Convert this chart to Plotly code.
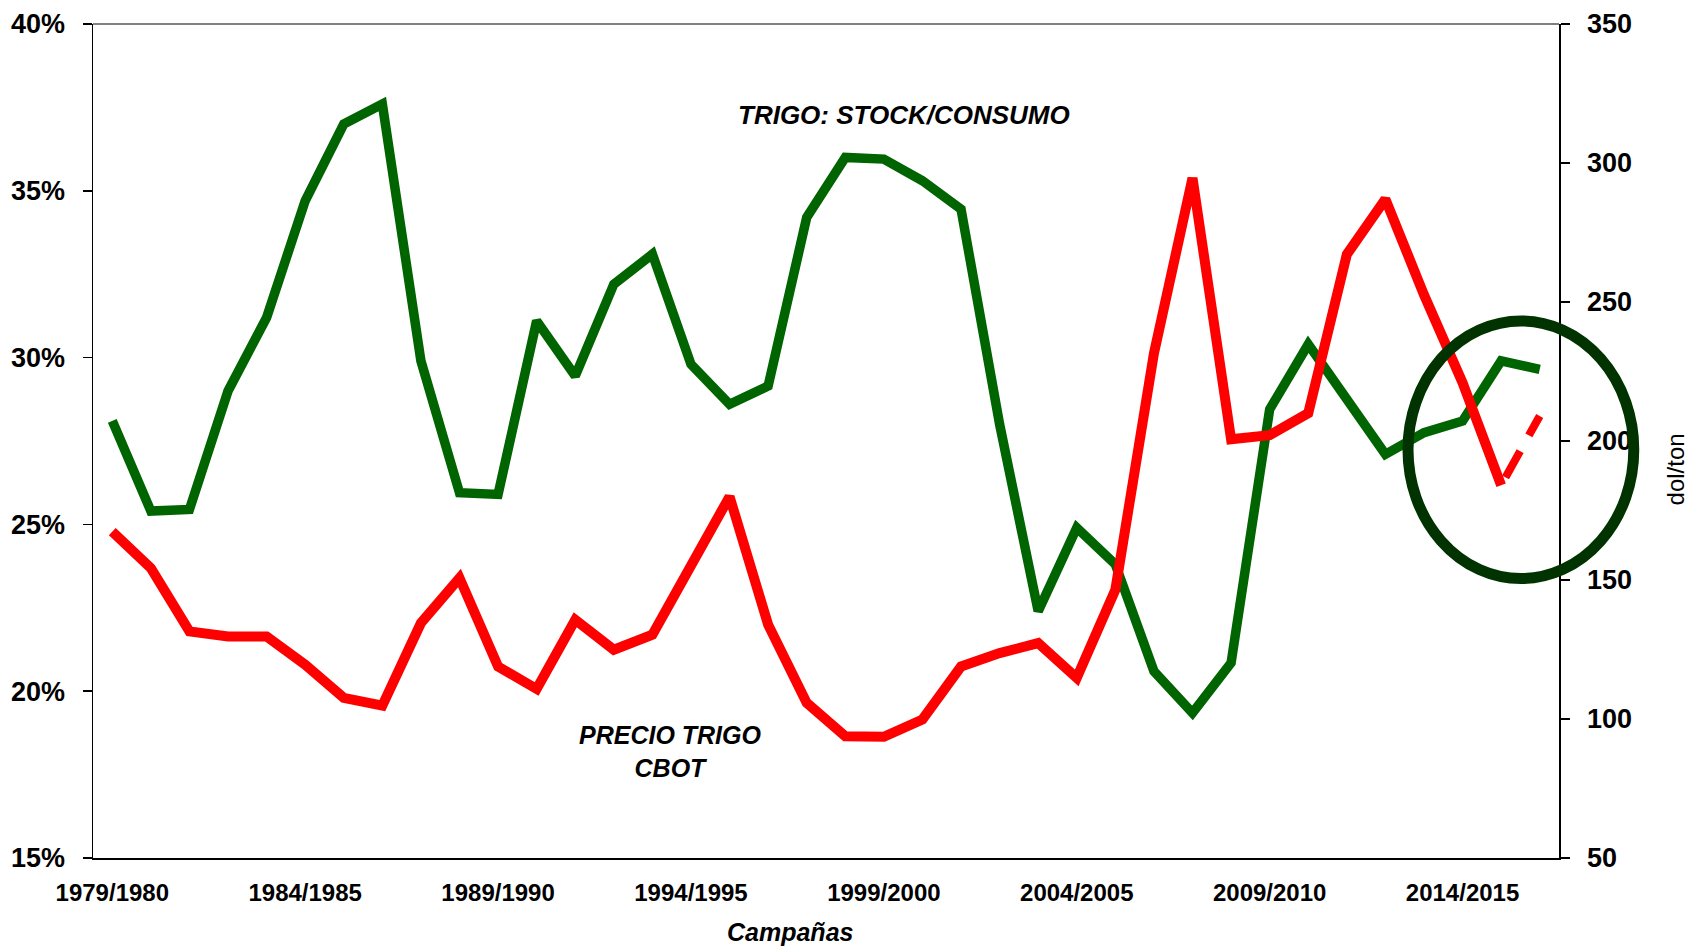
import plotly.graph_objects as go

# ---------------- data ----------------
campaigns = [f"{y}/{y+1}" for y in range(1979, 2017)]
label_campaigns = ["1979/1980", "1984/1985", "1989/1990", "1994/1995",
                   "1999/2000", "2004/2005", "2009/2010", "2014/2015"]

stock_consumo_pct = [28.1, 25.4, 25.45, 29.0, 31.2, 34.7, 37.0, 37.6, 29.9, 25.95,
                     25.9, 31.1, 29.45, 32.2, 33.1, 29.8, 28.6, 29.15, 34.2, 36.0,
                     35.95, 35.3, 34.45, 28.0, 22.4, 24.9, 23.8, 20.6, 19.35, 20.85,
                     28.45, 30.4, 28.75, 27.1, 27.75, 28.1, 29.9, 29.65]

precio_cbot = [167.4, 154.3, 131.5, 129.7, 129.7, 119.5, 107.6, 104.8, 134.5, 150.7,
               118.9, 110.8, 135.7, 124.9, 130.3, 154.5, 180.0, 133.9, 105.8, 93.8,
               93.6, 99.8, 118.9, 123.7, 127.3, 114.8, 146.5, 231.5, 294.6, 200.6,
               202.1, 210.0, 267.1, 287.0, 252.6, 221.0, 184.1]
precio_proyectado = [184.1, 209.0]
proyectado_campaigns = ["2015/2016", "2016/2017"]

left_ticks = [15, 20, 25, 30, 35, 40]
left_ticktext = ["15%", "20%", "25%", "30%", "35%", "40%"]
right_ticks = [50, 100, 150, 200, 250, 300, 350]

FONT = "Liberation Sans, Arial, sans-serif"
GREEN = "#006400"
RED = "#FF0000"

fig = go.Figure()
fig.add_trace(go.Scatter(x=campaigns, y=stock_consumo_pct, mode="lines",
                         line=dict(color=GREEN, width=9.5), yaxis="y",
                         name="TRIGO: STOCK/CONSUMO"))
fig.add_trace(go.Scatter(x=campaigns[:len(precio_cbot)], y=precio_cbot, mode="lines",
                         line=dict(color=RED, width=10), yaxis="y2",
                         name="PRECIO TRIGO CBOT"))
fig.add_trace(go.Scatter(x=proyectado_campaigns, y=precio_proyectado, mode="lines",
                         line=dict(color=RED, width=8, dash="0px,9px,30px,9px"),
                         yaxis="y2", name="proyectado"))

n = len(campaigns)
boundaries = [i - 0.5 for i in range(n + 1)]

tickfont_y = dict(family=FONT, size=27, color="black", weight="bold")
tickfont_x = dict(family=FONT, size=24, color="black", weight="bold")

fig.update_layout(
    width=1689, height=947,
    margin=dict(l=93, r=130, t=24, b=89, autoexpand=False),
    paper_bgcolor="white", plot_bgcolor="white",
    showlegend=False,
    xaxis=dict(type="category", categoryorder="array", categoryarray=campaigns,
               range=[-0.5, n - 0.5], tickmode="array", tickvals=label_campaigns,
               ticktext=label_campaigns, ticks="", showgrid=False, zeroline=False,
               showline=True, linecolor="black", linewidth=2, automargin=False,
               tickfont=tickfont_x, ticklabelstandoff=12),
    xaxis2=dict(overlaying="x", anchor="y", side="bottom", range=[-0.5, n - 0.5],
                tickmode="array", tickvals=boundaries, ticks="outside", ticklen=7,
                tickwidth=1.5, tickcolor="black", showticklabels=False,
                showgrid=False, zeroline=False, showline=False, automargin=False),
    xaxis3=dict(overlaying="x", anchor="y", side="bottom", range=[-0.5, n - 0.5],
                tickmode="array", tickvals=boundaries, ticks="inside", ticklen=7,
                tickwidth=1.5, tickcolor="black", showticklabels=False,
                showgrid=False, zeroline=False, showline=False, automargin=False),
    yaxis=dict(range=[15, 40], tickmode="array", tickvals=left_ticks,
               ticktext=left_ticktext,
               ticks="outside", ticklen=9, tickwidth=1.5, tickcolor="black",
               showline=True, linecolor="black", linewidth=1.5, showgrid=False,
               zeroline=False, tickfont=tickfont_y, ticklabelstandoff=12,
               automargin=False),
    yaxis3=dict(overlaying="y", anchor="x", side="left", range=[15, 40],
                tickmode="array", tickvals=left_ticks, ticks="inside", ticklen=8,
                tickwidth=1.5, tickcolor="black", showticklabels=False,
                showgrid=False, zeroline=False, showline=False, automargin=False),
    yaxis2=dict(overlaying="y", anchor="x", side="right", range=[50, 350],
                tickmode="array", tickvals=right_ticks, ticks="outside", ticklen=9,
                tickwidth=1.5, tickcolor="black", showline=True, linecolor="black",
                linewidth=1.5, showgrid=False, zeroline=False, tickfont=tickfont_y,
                ticklabelstandoff=12, automargin=False),
    yaxis4=dict(overlaying="y", anchor="x", side="right", range=[50, 350],
                tickmode="array", tickvals=right_ticks, ticks="inside", ticklen=8,
                tickwidth=1.5, tickcolor="black", showticklabels=False,
                showgrid=False, zeroline=False, showline=False, automargin=False),
)

# top border
fig.add_shape(type="line", xref="paper", yref="paper", x0=0, x1=1, y0=1, y1=1,
              line=dict(color="#808080", width=2))
# highlight ellipse
fig.add_shape(type="circle", xref="paper", yref="paper",
              x0=0.897, x1=1.051, y0=0.335, y1=0.644,
              line=dict(color="#003300", width=11), layer="above")

ann_common = dict(xref="paper", yref="paper", showarrow=False,
                  xanchor="center", yanchor="middle")
fig.add_annotation(text="TRIGO: STOCK/CONSUMO", x=0.5533, y=0.8906,
                   font=dict(family=FONT, size=26, color="black", weight="bold",
                             style="italic"), **ann_common)
fig.add_annotation(text="PRECIO TRIGO<br>CBOT", x=0.3938, y=0.1276, align="center",
                   font=dict(family=FONT, size=25, color="black", weight="bold",
                             style="italic"), **ann_common)
fig.add_annotation(text="Campañas", x=0.4756, y=-0.0892,
                   font=dict(family=FONT, size=25, color="black", weight="bold",
                             style="italic"), **ann_common)
fig.add_annotation(text="dol/ton", x=1.0795, y=0.4654, textangle=-90,
                   font=dict(family=FONT, size=24, color="black"), **ann_common)

fig.write_html("out.html",
               config={"displayModeBar": False, "staticPlot": True},
               post_script="document.body.style.margin='0';"
                           "document.body.style.overflow='hidden';")
